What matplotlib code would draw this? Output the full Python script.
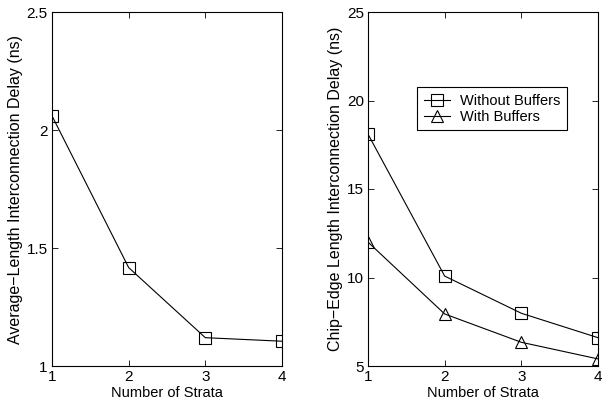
import matplotlib
matplotlib.use("Agg")
import matplotlib.pyplot as plt

strata = [1, 2, 3, 4]
avg_delay = [2.06, 1.417, 1.12, 1.105]
edge_no_buf = [18.1, 10.08, 7.98, 6.6]
edge_buf = [12.0, 7.94, 6.34, 5.4]

plt.rcParams["font.family"] = ["Liberation Sans", "DejaVu Sans"]
plt.rcParams["font.size"] = 10

fig = plt.figure(figsize=(6.08, 4.08), dpi=100)
ax1 = fig.add_axes([52 / 608, 42 / 408, 230 / 608, 354 / 408])
ax2 = fig.add_axes([368 / 608, 42 / 408, 230 / 608, 354 / 408])

mk = dict(color="black", lw=0.8, markerfacecolor="none", markeredgecolor="black",
          markersize=8, markeredgewidth=0.8)

ax1.plot(strata, avg_delay, marker="s", **mk)
ax1.set_xlim(1, 4)
ax1.set_ylim(1, 2.5)
ax1.set_xticks(strata)
ax1.set_yticks([1, 1.5, 2, 2.5])
ax1.set_yticklabels(["1", "1.5", "2", "2.5"])
ax1.set_xlabel("Number of Strata", fontsize=10.5, labelpad=1)
ax1.set_ylabel("Average\u2212Length Interconnection Delay (ns)", fontsize=11.5, labelpad=3)

ax2.plot(strata, edge_no_buf, marker="s", label="Without Buffers", **mk)
ax2.plot(strata, edge_buf, marker="^", label="With Buffers", **mk)
ax2.set_xlim(1, 4)
ax2.set_ylim(5, 25)
ax2.set_xticks(strata)
ax2.set_yticks([5, 10, 15, 20, 25])
ax2.set_xlabel("Number of Strata", fontsize=10.5, labelpad=1)
ax2.set_ylabel("Chip\u2212Edge Length Interconnection Delay (ns)", fontsize=11.5, labelpad=3)
leg = ax2.legend(loc="upper left", bbox_to_anchor=(0.213, 0.788), borderaxespad=0,
                 fancybox=False, framealpha=1, edgecolor="black", borderpad=0.45,
                 handlelength=1.8, handletextpad=0.7, labelspacing=0.15, fontsize=10.5)
leg.get_frame().set_linewidth(0.8)

for ax in (ax1, ax2):
    ax.tick_params(direction="in", top=True, right=True, length=4, width=0.6, pad=3,
                   labelsize=11)
    for s in ax.spines.values():
        s.set_linewidth(0.8)

fig.savefig("out.png", dpi=100)
